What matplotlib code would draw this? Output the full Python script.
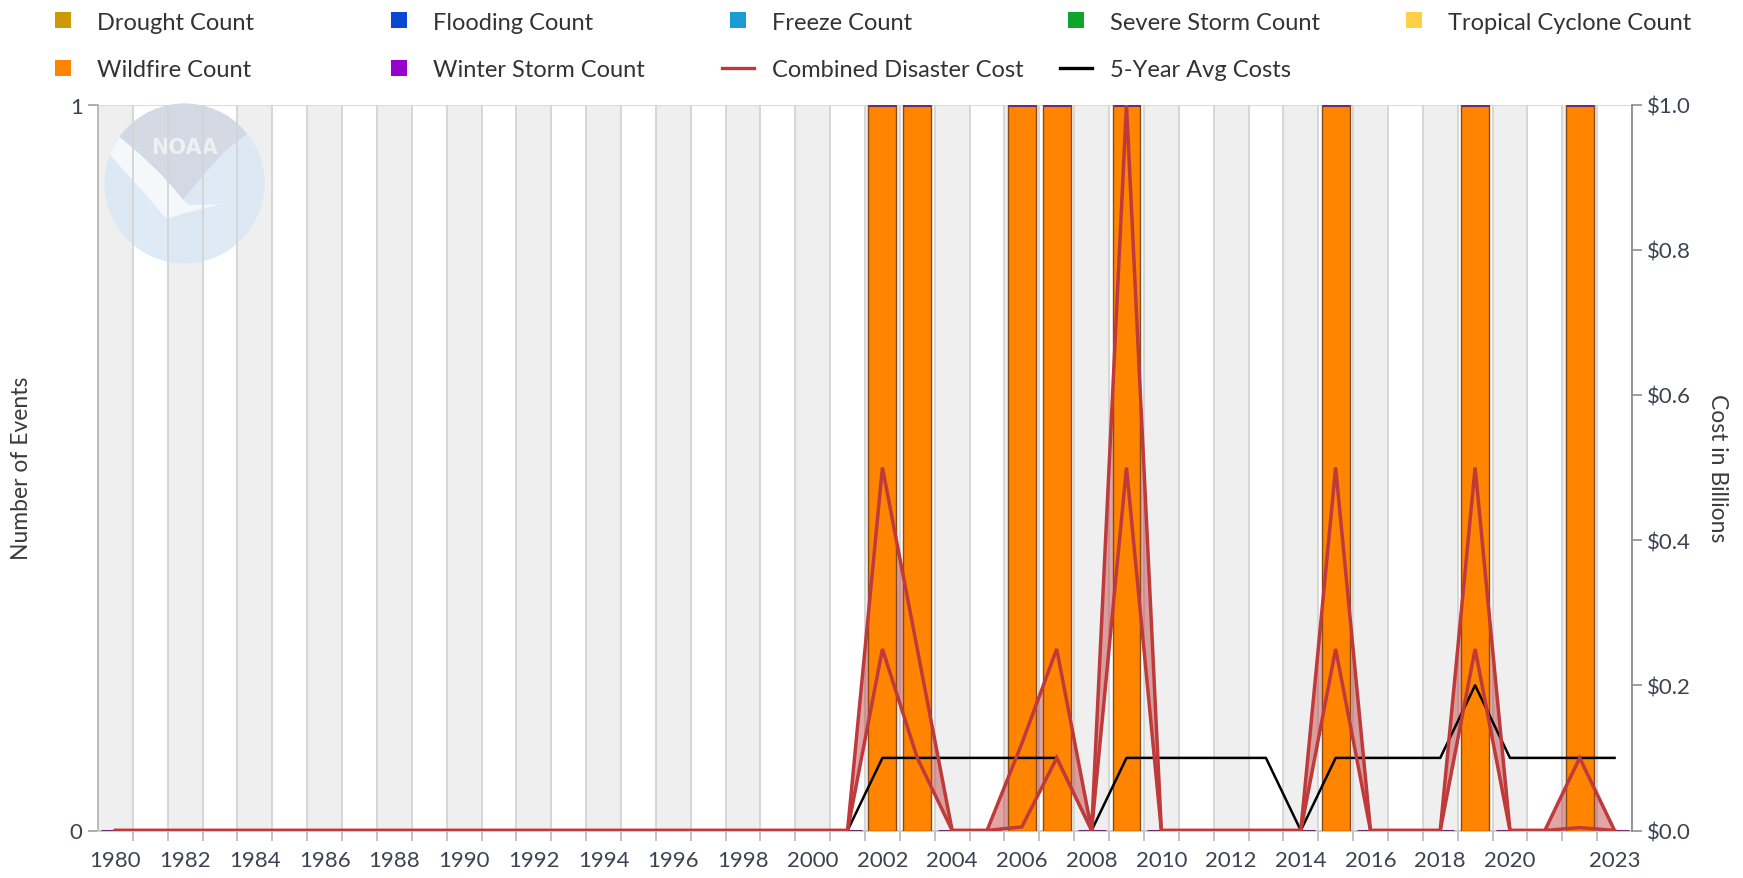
import matplotlib
matplotlib.use("Agg")
import matplotlib.pyplot as plt
from matplotlib.lines import Line2D
from matplotlib.patches import Circle, Polygon, Rectangle
from matplotlib.transforms import Affine2D, IdentityTransform
import numpy as np

plt.rcParams['font.family'] = ['Lato', 'DejaVu Sans']

years = [1980, 1981, 1982, 1983, 1984, 1985, 1986, 1987, 1988, 1989,
         1990, 1991, 1992, 1993, 1994, 1995, 1996, 1997, 1998, 1999,
         2000, 2001, 2002, 2003, 2004, 2005, 2006, 2007, 2008, 2009,
         2010, 2011, 2012, 2013, 2014, 2015, 2016, 2017, 2018, 2019,
         2020, 2021, 2022, 2023]

drought = [0] * 44
flooding = [0] * 44
freeze = [0] * 44
severe_storm = [0] * 44
tropical_cyclone = [0] * 44
wildfire = [0, 0, 0, 0, 0, 0, 0, 0, 0, 0,
            0, 0, 0, 0, 0, 0, 0, 0, 0, 0,
            0, 0, 1, 1, 0, 0, 1, 1, 0, 1,
            0, 0, 0, 0, 0, 1, 0, 0, 0, 1,
            0, 0, 1, 0]
winter_storm = [0] * 44

cost_low = [0, 0, 0, 0, 0, 0, 0, 0, 0, 0,
            0, 0, 0, 0, 0, 0, 0, 0, 0, 0,
            0, 0, 0.25, 0.1, 0, 0, 0.005, 0.1, 0, 0.5,
            0, 0, 0, 0, 0, 0.25, 0, 0, 0, 0.25,
            0, 0, 0.004, 0]
cost_high = [0, 0, 0, 0, 0, 0, 0, 0, 0, 0,
             0, 0, 0, 0, 0, 0, 0, 0, 0, 0,
             0, 0, 0.5, 0.25, 0, 0, 0.12, 0.25, 0, 1.0,
             0, 0, 0, 0, 0, 0.5, 0, 0, 0, 0.5,
             0, 0, 0.1, 0]
avg5 = [0, 0, 0, 0, 0, 0, 0, 0, 0, 0,
        0, 0, 0, 0, 0, 0, 0, 0, 0, 0,
        0, 0, 0.1, 0.1, 0.1, 0.1, 0.1, 0.1, 0, 0.1,
        0.1, 0.1, 0.1, 0.1, 0, 0.1, 0.1, 0.1, 0.1, 0.2,
        0.1, 0.1, 0.1, 0.1]

xtick_labels = [1980, 1982, 1984, 1986, 1988, 1990, 1992, 1994, 1996, 1998,
                2000, 2002, 2004, 2006, 2008, 2010, 2012, 2014, 2016, 2018,
                2020, 2023]
cost_ticks = [0.0, 0.2, 0.4, 0.6, 0.8, 1.0]

legend_items = [
    ("Drought Count", "#cc9a06", "sq"),
    ("Flooding Count", "#0b48d1", "sq"),
    ("Freeze Count", "#1a9bd2", "sq"),
    ("Severe Storm Count", "#0ea52f", "sq"),
    ("Tropical Cyclone Count", "#ffcf45", "sq"),
    ("Wildfire Count", "#ff8400", "sq"),
    ("Winter Storm Count", "#9600cc", "sq"),
    ("Combined Disaster Cost", "#c0393a", "ln"),
    ("5-Year Avg Costs", "#000000", "ln"),
]

W, H = 1743, 879
fig = plt.figure(figsize=(W / 100, H / 100), dpi=100)
L, R, T, B = 98, 1632, 105.5, 831.5
ax = fig.add_axes([L / W, 1 - B / H, (R - L) / W, (B - T) / H])
ax.set_xlim(1979.5, 2023.5)
ax.set_ylim(0, 1)

# alternating bands
for i, yr in enumerate(years):
    if i % 2 == 0:
        ax.axvspan(yr - 0.5, yr + 0.5, color='#efefef', zorder=0, lw=0)

# NOAA logo (display coords)
tr = Affine2D().scale(80).translate(184.5, H - 184.5)
logo_z = 0.6
ax.add_patch(Circle((0, 0), 1, transform=tr, facecolor='#d9e7f5', edgecolor='none',
                    alpha=0.85, zorder=logo_z, clip_on=False))
theta = np.linspace(np.arctan2(0.62, 0.78), np.arctan2(0.58, -0.81), 60)
cap = list(zip(np.cos(theta), np.sin(theta)))
cap += [(-0.55, 0.36), (-0.3, 0.12), (-0.12, -0.08), (-0.02, -0.2),
        (0.25, 0.12), (0.5, 0.4), (0.78, 0.62)]
ax.add_patch(Polygon(cap, closed=True, transform=tr, facecolor='#d3d8e3', edgecolor='none',
                     alpha=0.9, zorder=logo_z + 0.01, clip_on=False))
th2 = np.linspace(np.arctan2(0.58, -0.81), np.arctan2(0.36, -0.93), 20)
sw = list(zip(np.cos(th2), np.sin(th2)))
sw += [(-0.72, 0.12), (-0.5, -0.12), (-0.3, -0.36), (-0.22, -0.44), (0.05, -0.36),
       (0.45, -0.26), (0.05, -0.27), (-0.02, -0.2), (-0.12, -0.08), (-0.3, 0.12),
       (-0.55, 0.36)]
ax.add_patch(Polygon(sw, closed=True, transform=tr, facecolor='#f8fafc', edgecolor='none',
                     alpha=0.9, zorder=logo_z + 0.02, clip_on=False))
ax.text(184.5, H - 184.5 + 0.46 * 80, "NOAA", transform=IdentityTransform(),
        ha='center', va='center', color='#eef0f4', fontsize=15, fontweight='bold',
        family='DejaVu Sans', zorder=logo_z + 0.03)

# vertical gridlines at category boundaries
for yr in years:
    ax.axvline(yr + 0.5, color='#d4d4d4', lw=1.3, zorder=1)
ax.axhline(1, color='#d8d8d8', lw=1.3, zorder=1)

# stacked bars
bottom = np.zeros(len(years))
series = [drought, flooding, freeze, severe_storm, tropical_cyclone]
for vals in series:
    bottom = bottom + np.array(vals)
ax.bar(years, wildfire, width=0.8, bottom=bottom, color='#ff8400',
       edgecolor='#8a4a14', lw=1.0, zorder=3)
bottom = bottom + np.array(wildfire)
ax.bar(years, winter_storm, width=0.8, bottom=bottom, color='#9600cc',
       edgecolor='#6e2a72', lw=2.2, zorder=3.2)

ax.set_yticks([0, 1])
ax.set_yticklabels(['0', '1'])
ax.set_xticks([y + 0.5 for y in years[:-1]])
ax.set_xticklabels([])
ax.set_xticks(xtick_labels, minor=True)
ax.set_xticklabels([str(v) for v in xtick_labels], minor=True)
ax.tick_params(axis='x', which='major', length=7, width=1.2, color='#b8b8b8')
ax.tick_params(axis='x', which='minor', length=0, pad=14, labelsize=16, labelcolor='#3b4352')
ax.tick_params(axis='y', length=7, width=1.2, color='#a0a0a0', labelsize=16,
               labelcolor='#3b4352', pad=4)
for s in ['top', 'right']:
    ax.spines[s].set_visible(False)
ax.spines['left'].set_color('#b0b0b0')
ax.spines['left'].set_linewidth(1.2)
ax.spines['bottom'].set_color('#c8c8c8')
ax.spines['bottom'].set_linewidth(1.3)
ax.set_ylabel("Number of Events", fontsize=16.5, color='#3b3b3b', va='center')
ax.yaxis.set_label_coords((22 - L) / (R - L), 0.5)

ax2 = ax.twinx()
ax2.set_ylim(0, 1)
ax2.set_xlim(1979.5, 2023.5)
# cost range fill sits behind the bars (drawn on ax with the cost-axis transform)
ax.fill_between(years, cost_low, cost_high, color='#c0393a', alpha=0.45, lw=0, zorder=2,
                transform=ax2.transData)
ax2.plot(years, avg5, color='#000000', lw=1.8, zorder=3)
ax2.plot(years, cost_low, color='#bf3a3b', lw=2.5, zorder=4, solid_joinstyle='miter')
ax2.plot(years, cost_high, color='#bf3a3b', lw=2.5, zorder=4, solid_joinstyle='miter')
ax2.set_yticks(cost_ticks)
ax2.set_yticklabels(['$%.1f' % v for v in cost_ticks])
ax2.tick_params(axis='y', length=7, width=1.2, color='#909090', labelsize=16,
                labelcolor='#3b4352', pad=4)
for s in ['top', 'left', 'bottom']:
    ax2.spines[s].set_visible(False)
ax2.spines['right'].set_color('#8c8c8c')
ax2.spines['right'].set_linewidth(1.3)
ax2.set_ylabel("Cost in Billions", fontsize=16.5, color='#3b3b3b', rotation=270, va='center')
ax2.yaxis.set_label_coords((1717 - L) / (R - L), 0.5)

# legend (manual, fixed item width)
mx = [63, 399, 738, 1076, 1414]
row_y = [23, 71]
for k, (lab, col, kind) in enumerate(legend_items):
    r, c = divmod(k, 5)
    xm, ym = mx[c] / W, 1 - row_y[r] / H
    if kind == 'sq':
        fig.add_artist(Rectangle((mx[c] - 8, H - row_y[r] - 6), 16, 16,
                                 transform=IdentityTransform(), facecolor=col,
                                 edgecolor='none'))
    else:
        fig.add_artist(Line2D([mx[c] - 16, mx[c] + 16], [H - row_y[r] + 2] * 2,
                              transform=IdentityTransform(), color=col, lw=2.4))
    fig.text((mx[c] + 34) / W, ym, lab, fontsize=17, color='#333333',
             ha='left', va='center')

fig.savefig("out.png", dpi=100)
